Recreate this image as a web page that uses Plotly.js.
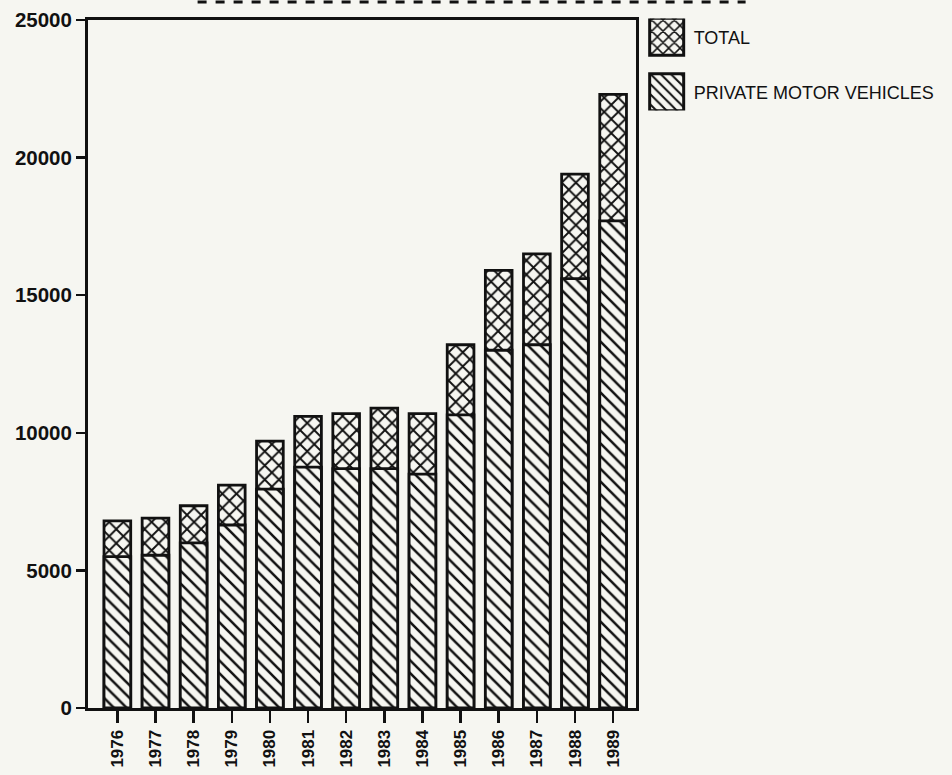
<!DOCTYPE html>
<html>
<head>
<meta charset="utf-8">
<script src="https://cdn.plot.ly/plotly-3.0.1.min.js"></script>
<style>
  html, body { margin: 0; padding: 0; background: #f6f6f1; }
  #chart { width: 952px; height: 775px; }
</style>
</head>
<body>
<div id="chart"></div>
<script>
// Data
var years = ["1976","1977","1978","1979","1980","1981","1982","1983","1984","1985","1986","1987","1988","1989"];
var totalValues = [6800, 6900, 7350, 8100, 9700, 10600, 10700, 10900, 10700, 13200, 15900, 16500, 19400, 22300];
var privateValues = [5500, 5550, 6000, 6650, 7950, 8750, 8700, 8700, 8500, 10650, 13000, 13200, 15600, 17700];
var yTickValues = [0, 5000, 10000, 15000, 20000, 25000];
var seriesNames = ["TOTAL", "PRIVATE MOTOR VEHICLES"];

var traces = [
  {
    type: "bar",
    name: seriesNames[0],
    x: years,
    y: totalValues,
    width: 0.7,
    legendgroup: "a",
    marker: {
      color: "#f6f6f1",
      line: { color: "#111", width: 2.8 },
      pattern: { shape: "x", fgcolor: "#111", bgcolor: "#f6f6f1", size: 10, solidity: 0.34 }
    },
    hoverinfo: "skip"
  },
  {
    type: "bar",
    name: seriesNames[1],
    x: years,
    y: privateValues,
    width: 0.7,
    legendgroup: "b",
    marker: {
      color: "#f6f6f1",
      line: { color: "#111", width: 2.8 },
      pattern: { shape: "\\", fgcolor: "#111", bgcolor: "#f6f6f1", size: 9, solidity: 0.28 }
    },
    hoverinfo: "skip"
  }
];

var layout = {
  width: 952,
  height: 775,
  margin: { l: 88, r: 312, t: 20, b: 67 },
  paper_bgcolor: "#f6f6f1",
  plot_bgcolor: "#f6f6f1",
  barmode: "overlay",
  showlegend: true,
  legend: {
    x: 1.014, y: 1.002, xanchor: "left", yanchor: "top",
    font: { family: "Liberation Sans, Arial, sans-serif", size: 18, color: "#111" },
    traceorder: "grouped",
    tracegroupgap: 29,
    bgcolor: "rgba(0,0,0,0)",
    itemwidth: 40
  },
  xaxis: {
    type: "category",
    range: [-0.77, 13.6],
    showline: true, linecolor: "#111", linewidth: 3, mirror: true,
    ticks: "outside", ticklen: 12, tickwidth: 2.5, tickcolor: "#111",
    tickangle: -90,
    tickfont: { family: "Liberation Sans, Arial, sans-serif", size: 17, color: "#111", weight: "bold" },
    showgrid: false, zeroline: false, fixedrange: true
  },
  yaxis: {
    range: [0, 25000],
    tickvals: yTickValues,
    ticktext: yTickValues.map(String),
    showline: true, linecolor: "#111", linewidth: 3, mirror: true,
    ticks: "outside", ticklen: 9, tickwidth: 2.5, tickcolor: "#111",
    tickfont: { family: "Liberation Sans, Arial, sans-serif", size: 20.5, color: "#111", weight: "bold" },
    showgrid: false, zeroline: false, fixedrange: true
  },
  shapes: [
    { type: "line", xref: "paper", yref: "paper", x0: 0.2, x1: 1.2, y0: 1.026, y1: 1.026,
      line: { color: "#111", width: 3, dash: "dash" } }
  ]
};

Plotly.newPlot("chart", traces, layout, { staticPlot: true }).then(function (gd) {
  // Enlarge legend swatches to match the big hatched boxes of the reference
  var paths = gd.querySelectorAll(".legend .legendpoints path");
  paths.forEach(function (p) {
    p.setAttribute("d", "M15,18.5H-19V-18.5H15Z");
    p.style.strokeWidth = "3px";
  });
});
</script>
</body>
</html>
